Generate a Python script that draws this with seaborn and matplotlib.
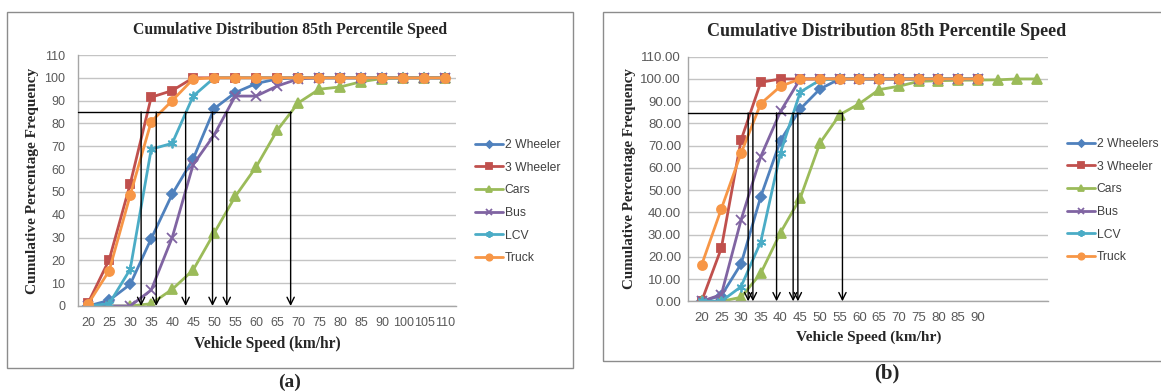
import numpy as np
import matplotlib
matplotlib.use("Agg")
import matplotlib.pyplot as plt
import seaborn as sns
from matplotlib.patches import Rectangle

sns.set_style("white")
plt.rcParams["font.family"] = ["Liberation Sans", "DejaVu Sans"]

# ---------------------------------------------------------------------------
# Data (cumulative % frequency per speed class)
# ---------------------------------------------------------------------------
speed_a = ["20", "25", "30", "35", "40", "45", "50", "55", "60", "65", "70",
           "75", "80", "85", "90", "100", "105", "110"]
speed_a_num = [20, 25, 30, 35, 40, 45, 50, 55, 60, 65, 70, 75, 80, 85, 90, 100, 105, 110]

a_two = [0, 2.5, 9.5, 29.5, 49, 64.5, 86.5, 93.5, 97.5, 99.5, 100, 100, 100, 100, 100, 100, 100, 100]
a_three = [1.4, 20.3, 53.5, 91.5, 94.4, 100, 100, 100, 100, 100, 100, 100, 100, 100, 100, 100, 100, 100]
a_cars = [0, 0, 0, 1, 7.3, 15.8, 32, 48, 61, 77, 89, 95, 96, 98.3, 99.7, 100, 100, 100]
a_bus = [0, 0, 0, 7, 30, 62, 75, 92, 92, 96.4, 99.5, 100, 100, 100, 100, 100, 100, 100]
a_lcv = [0, 1, 16.1, 68.7, 71.3, 92, 100, 100, 100, 100, 100, 100, 100, 100, 100, 100, 100, 100]
a_truck = [1, 15.5, 48.6, 80.8, 90, 99.5, 100, 100, 100, 100, 100, 100, 100, 100, 100, 100, 100, 100]
a_p85 = [32.6, 36.2, 43.2, 49.6, 53.0, 68.2]

speed_b = ["20", "25", "30", "35", "40", "45", "50", "55", "60", "65", "70",
           "75", "80", "85", "90", "", "", ""]
speed_b_num = [20, 25, 30, 35, 40, 45, 50, 55, 60, 65, 70, 75, 80, 85, 90]

b_two = [0, 2.5, 16.8, 47.1, 72.3, 86.5, 95.5, 100, 100, 100, 100, 100, 100, 100, 100]
b_three = [0, 23.9, 72.5, 98.5, 100, 100, 100, 100, 100, 100, 100, 100, 100, 100, 100]
b_cars = [0, 0, 1.8, 12.6, 30.9, 46.4, 71.2, 83.9, 88.9, 95.2, 96.7, 98.9, 99.2,
          99.4, 99.5, 99.6, 100, 100]
b_bus = [0, 3, 36.6, 65.1, 85.4, 100, 100, 100, 100, 100, 100, 100, 100, 100, 100]
b_lcv = [0, 0, 6.6, 26.8, 66.9, 94.1, 99.5, 100, 100, 100, 100, 100, 100, 100, 100]
b_truck = [16.3, 41.6, 66.6, 88.9, 96.7, 100, 100, 100, 100, 100, 100, 100, 100, 100, 100]
b_p85 = [31.8, 33.0, 39.0, 43.2, 44.4, 55.7]

colors = ["#4F81BD", "#C0504D", "#9BBB59", "#8064A2", "#4BACC6", "#F79646"]
markers = ["D", "s", "^", "x", (6, 2, 0), "o"]
msizes = [5, 6, 6.5, 7, 7, 6.5]

TXT = "#595959"
SERIF = ["Liberation Serif", "DejaVu Serif"]

fig = plt.figure(figsize=(11.61, 3.92), dpi=100)
W, H = 1161, 392


def fx(px):
    return px / W


def fy(py):
    return 1 - py / H


def draw_panel(rect, labels, cat_num, names, series, p85, p_line, xlim,
               tick_fs, ytick_fmt, ypad, xpad, legend_xy):
    ax = fig.add_axes(rect)
    for name, vals, c, m, ms in zip(names, series, colors, markers, msizes):
        sns.lineplot(x=np.arange(len(vals)), y=vals, color=c, marker=m,
                     markersize=ms, markeredgecolor=c, markeredgewidth=1.3,
                     linewidth=2, label=name, ax=ax)
    ax.set_xlim(*xlim)
    ax.set_ylim(0, 110)
    ax.set_xticks(np.arange(len(labels)))
    ax.set_xticklabels(labels)
    ax.set_yticks(np.arange(0, 111, 10))
    ax.set_yticklabels([ytick_fmt.format(v) for v in range(0, 111, 10)])
    ax.tick_params(axis="y", length=0, pad=ypad, labelsize=tick_fs, colors=TXT)
    ax.tick_params(axis="x", length=0, pad=xpad, labelsize=tick_fs, colors=TXT)
    ax.yaxis.grid(True, color="#C4C4C4", linewidth=1)
    ax.set_axisbelow(True)
    for s in ["top", "right"]:
        ax.spines[s].set_visible(False)
    for s in ["left", "bottom"]:
        ax.spines[s].set_color("#A6A6A6")
        ax.spines[s].set_linewidth(1)
    ax.set_xlabel("")
    ax.set_ylabel("")

    # 85th percentile construction lines
    xs = np.interp(p85, cat_num, np.arange(len(cat_num)))
    ax.plot([xlim[0], xs.max()], [p_line, p_line], color="black", lw=1,
            zorder=5, clip_on=False)
    for x in xs:
        ax.annotate("", xy=(x, 0), xytext=(x, p_line),
                    arrowprops=dict(arrowstyle="->", color="black", lw=1,
                                    shrinkA=0, shrinkB=0, mutation_scale=13),
                    zorder=6)

    leg = ax.legend(loc="upper left", bbox_to_anchor=legend_xy,
                    bbox_transform=fig.transFigure, frameon=False,
                    fontsize=8.7, handlelength=2.3, handletextpad=0.15,
                    labelspacing=0.88, borderpad=0, borderaxespad=0,
                    markerscale=0.7)
    for t in leg.get_texts():
        t.set_color("#404040")
    return ax


names_a = ["2 Wheeler", "3 Wheeler", "Cars", "Bus", "LCV", "Truck"]
names_b = ["2 Wheelers", "3 Wheeler", "Cars", "Bus", "LCV", "Truck"]

draw_panel([fx(77.7), fy(306), fx(378), 251 / H], speed_a, speed_a_num, names_a,
           [a_two, a_three, a_cars, a_bus, a_lcv, a_truck], a_p85, 85,
           (-0.5, 17.5), 9, "{:d}", 9, 8, (fx(475), fy(139)))

draw_panel([fx(688), fy(301.3), fx(360), 244.6 / H], speed_b, speed_b_num, names_b,
           [b_two, b_three, b_cars, b_bus, b_lcv, b_truck], b_p85, 84.7,
           (-0.69, 17.56), 9.5, "{:.2f}", 5, 8, (fx(1067), fy(138)))

# chart frames
fig.patches.append(Rectangle((fx(7), fy(368)), fx(566), 356 / H, transform=fig.transFigure,
                             fill=False, edgecolor="#8C8C8C", linewidth=1))
fig.patches.append(Rectangle((fx(603), fy(361)), fx(570), 349 / H, transform=fig.transFigure,
                             fill=False, edgecolor="#8C8C8C", linewidth=1, clip_on=False))

# titles and axis labels
title = "Cumulative Distribution 85th Percentile Speed"
fig.text(fx(290), fy(30), title, ha="center", va="center", family=SERIF,
         weight="bold", fontsize=11.3)
fig.text(fx(887), fy(32), title, ha="center", va="center", family=SERIF,
         weight="bold", fontsize=13)
fig.text(fx(267), fy(344), "Vehicle Speed (km/hr)", ha="center", va="center",
         family=SERIF, weight="bold", fontsize=11.2)
fig.text(fx(869), fy(337), "Vehicle Speed (km/hr)", ha="center", va="center",
         family=SERIF, weight="bold", fontsize=11.1)
fig.text(fx(33), fy(181), "Cumulative Percentage Frequency", ha="center", va="center",
         rotation=90, family=SERIF, weight="bold", fontsize=11.1)
fig.text(fx(629), fy(179), "Cumulative Percentage Frequency", ha="center", va="center",
         rotation=90, family=SERIF, weight="bold", fontsize=10.8)

fig.text(fx(290), fy(382), "(a)", ha="center", va="center", family=SERIF,
         weight="bold", fontsize=14)
fig.text(fx(887), fy(373), "(b)", ha="center", va="center", family=SERIF,
         weight="bold", fontsize=15)

fig.savefig("out.png", dpi=100)
